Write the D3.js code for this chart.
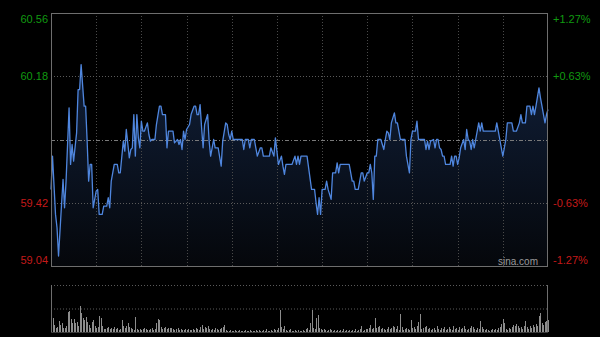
<!DOCTYPE html>
<html><head><meta charset="utf-8">
<script src="https://cdn.jsdelivr.net/npm/d3@7"></script>
<style>html,body{margin:0;padding:0;background:#000;}svg{display:block;}</style>
</head><body>
<svg id="c" width="600" height="337"></svg>
<script>
// ---- data ----
const prevClose = 59.80;
const priceTicks = [60.56, 60.18, 59.42, 59.04];
const totalMinutes = 330;
const minutes = [0,1,3,4,5,7,8,9,10,12,13,14,15,17,18,19,20,22,23,24,25,26,27,28,30,31,32,34,35,37,38,39,40,42,44,45,46,48,49,50,52,53,54,55,56,57,58,59,60,61,62,64,65,66,67,69,70,72,73,74,76,77,78,81,82,
84,85,86,87,88,89,90,92,93,95,96,97,98,99,100,101,102,104,105,106,107,108,109,111,113,114,116,117,118,119,120,121,123,127,128,129,131,132,133,135,136,137,139,140,141,145,146,148,149,150,151,153,154,155,156,160,162,163,164,165,
166,170,173,175,176,177,178,179,180,182,183,184,186,187,189,190,191,192,198,200,201,202,204,206,207,208,210,211,212,213,214,215,216,217,219,221,222,223,224,225,226,228,229,230,232,235,236,238,239,240,242,243,244,246,248,
249,250,251,252,254,255,256,257,258,259,260,261,262,265,266,267,268,269,270,271,272,274,275,276,277,278,279,280,281,282,284,285,286,287,289,294,295,296,297,298,299,300,301,302,303,304,306,307,309,311,312,313,315,316,318,319,320,321,322,324,325,326,327,328,329,330];
const prices = [59.50,59.70,59.35,59.27,59.10,59.41,59.56,59.39,59.55,59.99,59.65,59.77,59.67,59.84,60.10,60.10,60.25,60.00,60.00,59.79,59.55,59.65,59.65,59.39,59.49,59.50,59.35,59.35,59.40,59.40,59.45,59.39,59.55,59.65,59.65,59.60,59.60,59.79,59.73,59.86,59.69,59.74,59.75,59.95,59.70,59.95,59.81,59.75,59.91,59.85,59.85,59.90,59.83,59.79,59.80,59.80,59.89,60.00,60.00,59.95,59.95,59.75,59.85,59.85,59.78,
59.80,59.77,59.80,59.74,59.85,59.80,59.86,59.89,59.95,60.00,60.00,59.95,59.95,60.01,59.87,59.75,59.89,59.95,59.79,59.70,59.75,59.80,59.75,59.75,59.64,59.79,59.90,59.89,59.83,59.80,59.85,59.80,59.80,59.80,59.74,59.80,59.80,59.75,59.80,59.80,59.75,59.70,59.75,59.75,59.70,59.70,59.75,59.70,59.81,59.73,59.65,59.70,59.64,59.59,59.65,59.65,59.70,59.65,59.70,59.65,
59.70,59.70,59.50,59.50,59.42,59.35,59.45,59.35,59.50,59.50,59.55,59.50,59.44,59.60,59.60,59.66,59.60,59.65,59.65,59.55,59.55,59.50,59.50,59.60,59.60,59.55,59.60,59.60,59.65,59.60,59.44,59.70,59.70,59.80,59.80,59.74,59.80,59.85,59.84,59.80,59.90,59.96,59.90,59.90,59.80,59.80,59.70,59.60,59.80,59.85,59.85,59.91,59.80,59.80,59.80,
59.74,59.79,59.74,59.79,59.80,59.75,59.80,59.80,59.75,59.74,59.70,59.70,59.65,59.65,59.70,59.64,59.70,59.70,59.65,59.69,59.75,59.80,59.74,59.86,59.80,59.79,59.74,59.80,59.75,59.80,59.90,59.85,59.90,59.85,59.85,59.85,59.85,59.90,59.85,59.80,59.75,59.70,59.75,59.80,59.90,59.90,59.90,59.85,59.85,59.90,59.95,59.90,59.90,60.00,60.00,59.95,60.00,59.95,60.00,60.11,60.05,60.00,59.95,59.90,59.95,59.98];
const volumes = [26,14,7,4,5,11,7,9,4,4, 6,20,21,13,9,13,9,10,6,26, 19,14,12,15,10,7,4,10,12,6, 4,5,16,14,6,3,3,4,5,3,
4,3,5,3,4,2,3,12,6,4, 6,9,5,4,3,2,15,3,2,3, 2,3,4,3,2,2,3,4,2,3, 9,13,12,5,3,4,5,3,4,4, 4,3,2,3,4,2,3,2,2,3,
2,3,2,2,3,2,4,3,2,5, 7,3,5,4,6,3,2,3,2,4, 3,2,3,4,5,7,2,1,1,2, 1,1,2,1,1,2,1,1,1,2, 1,1,2,1,1,1,2,1,2,1,
1,2,1,3,1,1,2,1,3,2, 2,4,22,5,3,6,2,1,2,3, 1,1,2,1,2,1,1,2,1,3, 4,2,9,22,4,3,14,17,4,3, 2,3,2,1,2,3,2,1,2,1,
2,1,2,1,3,1,2,1,2,1, 2,1,3,1,2,3,6,1,2,3, 3,4,7,3,4,14,4,5,6,3, 4,3,2,3,5,3,4,6,5,3, 6,2,18,5,2,3,4,3,2,12,
4,5,3,6,10,18,3,4,5,6, 3,4,2,3,4,2,6,3,2,4, 3,5,2,3,5,3,2,6,3,4, 2,5,3,4,6,3,2,3,4,6, 5,3,2,4,3,11,5,3,2,3,
2,1,2,3,2,3,2,4,5,8, 13,9,3,2,4,3,5,7,6,8, 6,4,5,3,6,11,5,3,6,4, 7,5,8,6,16,19,9,7,10,11, 12];
const volumeMax = 47;

// ---- chart ----
const svg = d3.select("#c");
const L = 51, R = 548, T = 13, B = 266;
const VT = 285, VB = 332;
const x = d3.scaleLinear().domain([0, totalMinutes]).range([L, R]);
const y = d3.scaleLinear().domain([priceTicks[3], priceTicks[0]]).range([B, T]);
const yv = d3.scaleLinear().domain([0, volumeMax]).range([VB, VT]);
const series = minutes.map((m, i) => ({m, p: prices[i]}));

const defs = svg.append("defs");
const grad = defs.append("linearGradient").attr("id", "fillg")
  .attr("gradientUnits", "userSpaceOnUse").attr("x1", 0).attr("y1", T).attr("x2", 0).attr("y2", B);
grad.append("stop").attr("offset", "0%").attr("stop-color", "#132544");
grad.append("stop").attr("offset", "100%").attr("stop-color", "#05070b");

// area fill
svg.append("path").datum(series)
  .attr("d", d3.area().x(d => x(d.m)).y0(B).y1(d => y(d.p)))
  .attr("fill", "url(#fillg)");

// vertical grid
const vg = d3.range(30, totalMinutes, 30);
svg.append("g").selectAll("line").data(vg).join("line")
  .attr("x1", d => Math.round(x(d)) + 0.5).attr("x2", d => Math.round(x(d)) + 0.5)
  .attr("y1", T).attr("y2", B)
  .attr("stroke", "#4a4a4a").attr("stroke-dasharray", "1,2");

// horizontal grid
svg.append("g").selectAll("line").data([priceTicks[1], priceTicks[2]]).join("line")
  .attr("x1", L).attr("x2", R)
  .attr("y1", d => Math.round(y(d)) + 0.5).attr("y2", d => Math.round(y(d)) + 0.5)
  .attr("stroke", "#5a5a5a").attr("stroke-dasharray", "1,2");
// previous close line
svg.append("line").attr("x1", L).attr("x2", R)
  .attr("y1", Math.round(y(prevClose)) + 0.5).attr("y2", Math.round(y(prevClose)) + 0.5)
  .attr("stroke", "#7a7a7a").attr("stroke-dasharray", "4,2,1,2");

// price line
svg.append("path").datum(series)
  .attr("d", d3.line().x(d => x(d.m)).y(d => y(d.p)))
  .attr("fill", "none").attr("stroke", "#4f86de").attr("stroke-width", 1.3)
  .attr("stroke-linejoin", "round");

// frame
svg.append("rect").attr("x", L + 0.5).attr("y", T + 0.5).attr("width", R - L - 1).attr("height", B - T)
  .attr("fill", "none").attr("stroke", "#6e6e6e");

// left labels
const fmtPct = v => { const p = Math.floor(Math.abs(v - prevClose) / prevClose * 10000 + 1e-6) / 100; return (v >= prevClose ? "+" : "-") + p.toFixed(2) + "%"; };
const labelY = (d, i) => i === 0 ? y(d) + 6 : (i === priceTicks.length - 1 ? y(d) - 6 : y(d));
svg.append("g").selectAll("text").data(priceTicks).join("text")
  .attr("x", 48).attr("y", labelY).attr("dy", "0.35em").attr("text-anchor", "end")
  .attr("font-family", "Liberation Sans, Arial, sans-serif").attr("font-size", 11)
  .attr("fill", d => d > prevClose ? "#109a10" : "#c41a1a")
  .text(d => d.toFixed(2));
svg.append("g").selectAll("text").data(priceTicks).join("text")
  .attr("x", 553).attr("y", labelY).attr("dy", "0.35em").attr("text-anchor", "start")
  .attr("font-family", "Liberation Sans, Arial, sans-serif").attr("font-size", 11)
  .attr("fill", d => d > prevClose ? "#109a10" : "#c41a1a")
  .text(d => fmtPct(d));

// watermark
svg.append("text").attr("x", 538).attr("y", 265).attr("text-anchor", "end")
  .attr("font-family", "Liberation Sans, Arial, sans-serif").attr("font-size", 10)
  .attr("fill", "#9a9a9a").text("sina.com");

// volume panel
svg.append("line").attr("x1", L).attr("x2", R).attr("y1", VT + 0.5).attr("y2", VT + 0.5)
  .attr("stroke", "#5a5a5a").attr("stroke-dasharray", "1,2");
svg.append("line").attr("x1", L).attr("x2", R).attr("y1", yv(volumeMax / 2) + 0.5).attr("y2", yv(volumeMax / 2) + 0.5)
  .attr("stroke", "#5a5a5a").attr("stroke-dasharray", "1,2");
svg.append("g").selectAll("rect").data(volumes).join("rect")
  .attr("x", (d, i) => Math.round(x(i))).attr("width", 1)
  .attr("y", d => yv(d)).attr("height", d => VB - yv(d))
  .attr("fill", "#8c8c8c");
svg.append("line").attr("x1", L + 0.5).attr("x2", L + 0.5).attr("y1", VT).attr("y2", VB).attr("stroke", "#6e6e6e");
svg.append("line").attr("x1", R - 0.5).attr("x2", R - 0.5).attr("y1", VT).attr("y2", VB).attr("stroke", "#6e6e6e");
svg.append("line").attr("x1", L).attr("x2", R).attr("y1", VB + 0.5).attr("y2", VB + 0.5).attr("stroke", "#3a3a3a");
</script>
</body></html>
